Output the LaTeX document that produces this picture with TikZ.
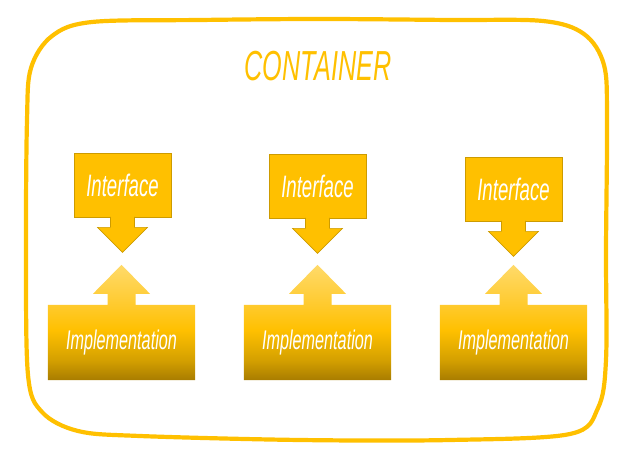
\documentclass[tikz,border=0pt]{standalone}
\usepackage{fontspec}
\usetikzlibrary{calc,backgrounds}
\newfontfamily\hand[FakeStretch=0.6]{Liberation Sans}
\definecolor{gold}{RGB}{255,192,0}
\definecolor{goldedge}{RGB}{205,155,0}
\definecolor{itop}{RGB}{255,218,106}
\definecolor{ibase}{RGB}{255,202,45}
\definecolor{imid2}{RGB}{212,160,0}
\definecolor{ibot}{RGB}{168,124,0}
\pgfdeclareverticalshading{implshade}{100bp}{color(0bp)=(ibot); color(25bp)=(ibot); color(33.7bp)=(imid2); color(46.7bp)=(gold); color(57.6bp)=(ibase); color(75bp)=(itop); color(100bp)=(itop)}
\tikzset{
  cont/.style={draw=gold, line width=4.2pt, line join=round},
  title/.style={text=gold, font=\hand\itshape\fontsize{42}{44}\selectfont, inner sep=0pt},
  iface/.style={fill=gold, draw=goldedge, line width=0.8pt, minimum width=97pt, minimum height=64pt, inner sep=0pt, text=white, font=\hand\itshape\fontsize{31}{33}\selectfont},
  impl/.style={minimum width=147pt, minimum height=75pt, inner sep=0pt, text=white, font=\hand\itshape\fontsize{27}{29}\selectfont},
  darrow/.style={fill=gold, draw=goldedge, line width=0.6pt, line join=miter},
}
\newcommand\downarrowfrom[1]{%
  \draw[darrow] ($(#1.south)+(-12,-0.6)$) -- ($(#1.south)+(-12,10)$) -- ($(#1.south)+(-25,10)$) -- ($(#1.south)+(0,35)$) -- ($(#1.south)+(25,10)$) -- ($(#1.south)+(12,10)$) -- ($(#1.south)+(12,-0.6)$);}
\newcommand\implshape[1]{%
  \path[shading=implshade] (#1.south west) -- (#1.north west) -- ($(#1.north)+(-14,0)$) -- ($(#1.north)+(-14,-11)$) -- ($(#1.north)+(-28.5,-11)$) -- ($(#1.north)+(0,-40)$) -- ($(#1.north)+(28.5,-11)$) -- ($(#1.north)+(14,-11)$) -- ($(#1.north)+(14,0)$) -- (#1.north east) -- (#1.south east) -- cycle;}
\begin{document}
\begin{tikzpicture}[x=1pt,y=-1pt]
\useasboundingbox (0,0) rectangle (629,462);
\draw[cont] plot[smooth cycle, tension=0.55] coordinates {
  (27,120) (31,68) (52,36) (92,22) (200,20) (320,19) (450,20) (543,21) (584,34) (604,65) (607,120)
  (606,250) (606,360) (598,408) (570,434) (450,440) (300,440) (140,436) (78,431) (42,412) (28,375) (26,250)};
\node[title] (ttl) at (318,66) {CONTAINER};

\node[iface] (i1) at (122.5,185) {Interface};
\node[iface] (i2) at (317.5,186) {Interface};
\node[iface] (i3) at (513.5,189) {Interface};
\downarrowfrom{i1}
\downarrowfrom{i2}
\downarrowfrom{i3}

\node[impl] (m1) at (121.5,342.5) {Implementation};
\node[impl] (m2) at (317.5,342.5) {Implementation};
\node[impl] (m3) at (513.5,342.5) {Implementation};
\begin{scope}[on background layer]
\implshape{m1}
\implshape{m2}
\implshape{m3}
\end{scope}
\end{tikzpicture}
\end{document}
